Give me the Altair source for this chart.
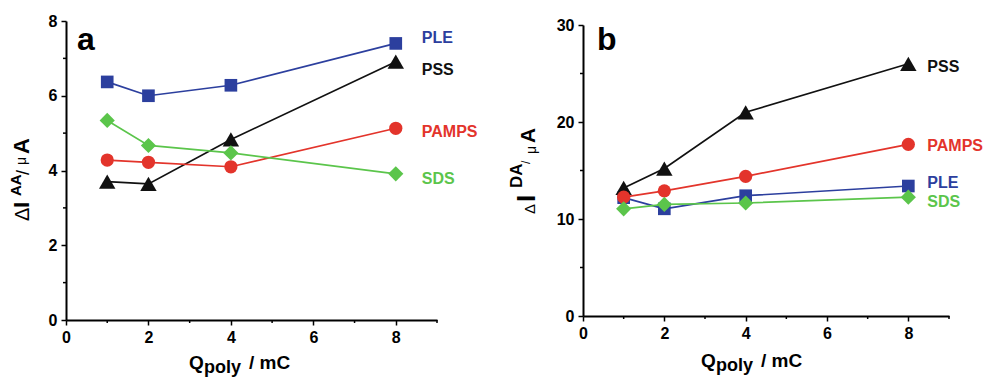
import altair as alt
import pandas as pd

FONT = "Liberation Sans"

# Deposition charge of the polymer film (mC)
q_poly = [1, 2, 4, 8]

series = ["PLE", "PSS", "PAMPS", "SDS"]
colors = ["#2c3f9e", "#111111", "#e3342b", "#5bc54b"]
shapes = ["square", "triangle-up", "circle", "diamond"]
sizes = [160, 270, 175, 230]

# Panel a: ascorbic acid current change (uA)
aa_ple = [6.37, 6.00, 6.28, 7.40]
aa_pss = [3.70, 3.64, 4.83, 6.91]
aa_pamps = [4.28, 4.22, 4.10, 5.13]
aa_sds = [5.34, 4.67, 4.47, 3.91]

# Panel b: dopamine current change (uA)
da_ple = [12.2, 11.05, 12.4, 13.4]
da_pss = [13.2, 15.2, 21.0, 26.0]
da_pamps = [12.25, 12.9, 14.4, 17.7]
da_sds = [11.05, 11.5, 11.65, 12.25]

# Series name placement (in y data units), right of the last point
label_y_aa = [7.54, 6.68, 5.03, 3.77]
label_y_da = [13.7, 25.7, 17.5, 11.8]

x_major = [0, 2, 4, 6, 8]
x_minor = [1, 3, 5, 7, 9]


def long_frame(cols):
    rows = []
    for name, vals in zip(series, cols):
        for q, v in zip(q_poly, vals):
            rows.append({"q": q, "val": v, "series": name})
    return pd.DataFrame(rows)


def one_row():
    return alt.Chart(pd.DataFrame({"k": [0]}))


def piece(txt, x, y, size, bold, angle=None):
    kw = dict(text=txt, align="left", baseline="alphabetic", fontSize=size,
              fontWeight="bold" if bold else "normal", font=FONT, color="black")
    if angle is not None:
        kw["angle"] = angle
    return one_row().mark_text(**kw).encode(x=alt.value(x), y=alt.value(y))


color_enc = alt.Color("series:N", scale=alt.Scale(domain=series, range=colors), legend=None)


def panel(cols, ydom, ymajor, yminor, w, h, label_y, label_dx, letter, letter_xy,
          ytitle, xtitle):
    df = long_frame(cols)
    xs = alt.Scale(domain=[0, 9], nice=False, zero=False)
    ys = alt.Scale(domain=ydom, nice=False, zero=False)
    common = dict(domainColor="black", domainWidth=2, tickColor="black", tickWidth=1.5,
                  tickSize=5, labelFont=FONT, labelFontSize=16, labelFontWeight="bold",
                  labelColor="black", grid=False, title=None, labelFlush=False)
    xax = alt.Axis(values=x_major, labelPadding=4, **common)
    yax = alt.Axis(values=ymajor, labelPadding=4, **common)

    def X(field):
        return alt.X(field, scale=xs, axis=xax)

    def Y(field):
        return alt.Y(field, scale=ys, axis=yax)

    lines = alt.Chart(df).mark_line(strokeWidth=1.7).encode(
        x=X("q:Q"), y=Y("val:Q"), color=color_enc,
    )
    # one marker layer per series, each with its own symbol and size
    point_layers = [
        alt.Chart(df).transform_filter(alt.datum.series == name)
        .mark_point(filled=True, opacity=1, shape=shp, size=sz)
        .encode(x=X("q:Q"), y=Y("val:Q"), color=color_enc)
        for name, shp, sz in zip(series, shapes, sizes)
    ]

    # minor ticks
    xmin = alt.Chart(pd.DataFrame({"q": x_minor})).mark_rule(color="black", strokeWidth=1.5).encode(
        x=X("q:Q"), y=alt.value(h), y2=alt.value(h + 3))
    ymin = alt.Chart(pd.DataFrame({"val": yminor})).mark_rule(color="black", strokeWidth=1.5).encode(
        y=Y("val:Q"), x=alt.value(0), x2=alt.value(-3))

    lab_df = pd.DataFrame({"series": series, "q": [8] * 4, "val": label_y})
    labels = alt.Chart(lab_df).mark_text(align="left", baseline="middle", dx=label_dx,
                                         fontSize=16, fontWeight="bold", font=FONT).encode(
        x=X("q:Q"), y=Y("val:Q"), text="series:N", color=color_enc,
    )

    tag = piece(letter, letter_xy[0], letter_xy[1], 32, True)
    yt = [piece(t, x, y, s, b, angle=270) for (t, x, y, s, b) in ytitle]
    xt = [piece(t, x, y, s, b) for (t, x, y, s, b) in xtitle]

    return alt.layer(lines, *point_layers, xmin, ymin, labels, tag, *yt, *xt).properties(
        width=w, height=h)


panel_a = panel(
    [aa_ple, aa_pss, aa_pamps, aa_sds], [0, 8], [0, 2, 4, 6, 8], [1, 3, 5, 7],
    371, 299, label_y_aa, 26, "a", (11, 29),
    [("Δ", -37, 200, 20, False), ("I", -37, 187, 22, True), ("AA", -45, 175, 15, True),
     ("/", -37, 154, 18, False), ("μ", -40, 144, 14, False), ("A", -37, 133, 22, True)],
    [("Q", 123, 348, 19, True), ("poly", 138, 352, 18, True), ("/ mC", 183, 348, 19, True)],
)

panel_b = panel(
    [da_ple, da_pss, da_pamps, da_sds], [0, 30], [0, 10, 20, 30], [5, 15, 25],
    366, 291, label_y_da, 19, "b", (14, 25),
    [("Δ", -48, 189, 15, False), ("I", -48, 177, 26, True), ("DA", -61, 163, 17, True),
     ("/", -53, 139, 12, False), ("μ", -47, 129, 14, False), ("A", -48, 118, 21, True)],
    [("Q", 118, 342, 19, True), ("poly", 133, 346, 18, True), ("/ mC", 178, 342, 19, True)],
)

# invisible anchor fixing the top-left corner of the drawing
anchor = one_row().mark_rule(opacity=0, strokeWidth=0).encode(
    x=alt.value(-66), x2=alt.value(-66), y=alt.value(-21), y2=alt.value(-15))
panel_a = alt.layer(panel_a, anchor)

chart = alt.hconcat(panel_a, panel_b, spacing=146, bounds="flush", center=True).properties(
    padding={"left": 0, "top": 0, "right": 0, "bottom": 0},
    background="white",
).configure_view(stroke=None)

chart.save("out.html", embed_options={"renderer": "svg", "actions": False})
